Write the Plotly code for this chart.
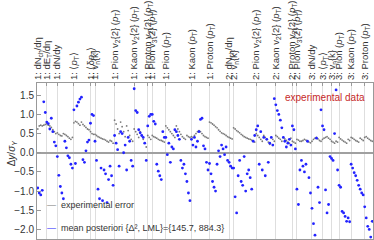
import numpy as np
import plotly.graph_objects as go

# observable groups (tick labels) and number of observables in each group
group_labels = [
    "1: dN<sub>ch</sub>/dη", "1: dE<sub>T</sub>/dη", "1: dN/dy", "1: ⟨<i>p</i><sub>T</sub>⟩",
    "1: ⟨δ<i>p</i><sub>T</sub>⟩", "1: v<sub>n</sub>{k}",
    "1: Pion v<sub>2</sub>{2} (<i>p</i><sub>T</sub>)", "1: Kaon v<sub>2</sub>{2} (<i>p</i><sub>T</sub>)",
    "1: Proton v<sub>2</sub>{2} (<i>p</i><sub>T</sub>)", "1: Pion v<sub>3</sub>{2} (<i>p</i><sub>T</sub>)",
    "1: Pion (<i>p</i><sub>T</sub>)", "1: Kaon (<i>p</i><sub>T</sub>)", "1: Proton (<i>p</i><sub>T</sub>)",
    "2: dN<sub>ch</sub>/dη", "2: v<sub>n</sub>{k}",
    "2: Pion v<sub>2</sub>{2} (<i>p</i><sub>T</sub>)", "2: Kaon v<sub>2</sub>{2} (<i>p</i><sub>T</sub>)",
    "2: Proton v<sub>2</sub>{2} (<i>p</i><sub>T</sub>)", "2: Pion v<sub>3</sub>{2} (<i>p</i><sub>T</sub>)",
    "3: dN/dy", "3: ⟨<i>p</i><sub>T</sub>⟩", "3: v<sub>n</sub>{k}",
    "3: Pion (<i>p</i><sub>T</sub>)", "3: Kaon (<i>p</i><sub>T</sub>)", "3: Proton (<i>p</i><sub>T</sub>)",
]
group_counts = [6, 7, 11, 11, 3, 13, 13, 9, 3, 9, 17, 12, 13, 3, 15, 13, 11, 3, 10, 7, 6, 5, 8, 9, 6]

# experimental error (relative), one value per observable
exp_error = [
    0.62, 0.70, 0.72, 0.70, 0.72, 0.74,
    0.76, 0.72, 0.70, 0.66, 0.60, 0.55, 0.50,
    0.52, 0.48, 0.45, 0.44, 0.50, 0.48, 0.45, 0.42, 0.38, 0.35, 0.40,
    0.78, 0.82, 0.80, 0.76, 0.72, 0.80, 0.74, 0.70, 0.66, 0.62, 0.60,
    0.55, 0.50, 0.48,
    0.48, 0.45, 0.42, 0.40, 0.38, 0.36, 0.35, 0.33, 0.30, 0.28, 0.32, 0.30, 0.25,
    0.85, 0.75, 0.62, 0.50, 0.80, 0.68, 0.55, 0.42, 0.70, 0.58, 0.45, 0.35, 0.30,
    0.62, 0.55, 0.48, 0.40, 0.55, 0.45, 0.35, 0.25, 0.15,
    0.45, 0.40, 0.35,
    0.45, 0.42, 0.40, 0.38, 0.35, 0.33, 0.32, 0.30, 0.28,
    0.70, 0.65, 0.60, 0.55, 0.50, 0.45, 0.40, 0.70, 0.62, 0.55, 0.48, 0.42, 0.38, 0.35, 0.45, 0.42, 0.40,
    0.42, 0.40, 0.45, 0.50, 0.55, 0.58, 0.55, 0.50, 0.45, 0.42, 0.40, 0.38,
    0.80, 0.78, 0.75, 0.72, 0.68, 0.65, 0.60, 0.56, 0.52, 0.50, 0.48, 0.45, 0.42,
    0.40, 0.38, 0.36,
    0.65, 0.62, 0.58, 0.55, 0.52, 0.48, 0.45, 0.42, 0.40, 0.38, 0.36, 0.35, 0.33, 0.30, 0.28,
    0.50, 0.45, 0.40, 0.35, 0.30, 0.45, 0.40, 0.35, 0.28, 0.22, 0.40, 0.35, 0.30,
    0.45, 0.42, 0.38, 0.35, 0.30, 0.40, 0.36, 0.32, 0.28, 0.25, 0.38,
    0.30, 0.28, 0.25,
    0.35, 0.33, 0.30, 0.30, 0.32, 0.35, 0.33, 0.30, 0.28, 0.26,
    0.30, 0.35, 0.38, 0.40, 0.36, 0.32, 0.30,
    0.35, 0.38, 0.40, 0.42, 0.38, 0.35,
    0.30, 0.28, 0.25, 0.30, 0.28,
    0.40, 0.36, 0.33, 0.30, 0.28, 0.25, 0.35, 0.32,
    0.40, 0.38, 0.35, 0.32, 0.30, 0.28, 0.38, 0.35, 0.32,
    0.40, 0.42, 0.38, 0.35, 0.32, 0.30,
]

# mean posteriori deviation, one value per observable
mean_posteriori = [
    -0.92, -1.05, -1.10, -0.98, 1.33, 1.05,
    0.80, 0.76, 0.62, 0.90, 0.55, 0.28, 0.18,
    -0.10, -0.59, -0.88, -1.05, -1.20, 0.30, 0.13, -0.08, -0.13, -0.30, -0.40,
    1.12, -0.28, 1.22, 1.32, 1.40, 1.45, -0.18, -0.25, 0.05, 0.28, 0.33,
    0.77, 1.00, 0.97,
    0.30, -0.20, -0.95, -1.20, -0.40, -1.25, -0.45, -0.55, -1.30, -0.70, -0.35, -0.60, -0.85,
    0.45, 0.25, 0.08, -0.35, 0.55, 0.50, 0.00, 0.20, -0.45, 0.40, 0.30, -0.20, -0.35,
    1.67, 1.10, 1.05, 0.60, 0.52, 0.45, 0.40, 0.25, -0.20,
    0.70, 0.95, 1.00,
    1.00, 0.82, 0.75, -0.30, -0.48, -0.60, -0.70, 0.55, 0.40,
    0.40, -0.05, 0.25, -0.25, 0.15, 0.10, 0.60, 0.55, 0.45, 0.35, -0.20, -0.40, -0.30, -0.55, -0.75, -1.05, -1.25,
    0.35, 0.20, 0.40, 0.15, 0.30, 0.55, 0.87, 0.90, 0.18, 0.10, -0.25, -0.45,
    -0.28, -0.55, -0.75, -0.90, -1.00, -0.30, 0.05, -0.10, 0.20, 0.10, -0.05, 0.15, -0.20,
    -0.25, -0.35, -0.40,
    -0.40, -1.15, -1.57, -0.60, -0.20, -0.75, -0.85, -0.10, -1.00, -0.55, -0.45, -0.65, -0.95, 0.30, 0.45,
    0.60, 0.70, -0.30, 0.55, -0.45, 0.40, -0.60, 0.35, -0.25, 0.25, 0.40, 0.20, 1.41,
    1.25, 1.10, 1.00, 0.85, 0.65, 0.40, 0.30, 0.15, 0.25, 0.35, 0.20,
    0.70, 0.60, 0.10,
    -0.95, -1.35, -0.45, -0.20, -0.35, -0.50, -0.30, 0.30, -0.65, -1.05,
    -1.45, -1.85, -2.15, 0.38, -0.90, -1.30, 1.12,
    0.70, 0.60, -0.97, -1.57, -1.35, -0.10,
    -0.15, -0.20, 0.50, 1.64, -0.45,
    -0.85, -0.90, -1.53, -1.57, -1.66, -1.79, -1.70, -1.80,
    -0.30, -0.40, -0.52, -0.60, -0.72, -0.85, -0.95, -1.05, -1.10,
    -1.41, -1.70, -1.92, -2.00, -2.20, -1.79,
]

y_ticks = [-2.0, -1.5, -1.0, -0.5, 0.0, 0.5, 1.0, 1.5]
legend_texts = ["experimental error", "mean posteriori {Δ², LML}={145.7, 884.3}"]

n_obs = sum(group_counts)
assert len(exp_error) == n_obs and len(mean_posteriori) == n_obs
obs_index = np.arange(n_obs)
group_starts = np.concatenate([[0], np.cumsum(group_counts)[:-1]])

FONT = "Liberation Sans, Arial, sans-serif"
fig = go.Figure()
fig.add_trace(go.Scatter(x=obs_index, y=exp_error, mode="markers",
                         marker=dict(size=1.8, color="#7a7a7a"), showlegend=False,
                         name=legend_texts[0]))
fig.add_trace(go.Scatter(x=obs_index, y=mean_posteriori, mode="markers",
                         marker=dict(size=2.8, color="#2323ff"), showlegend=False,
                         name=legend_texts[1]))

fig.update_layout(
    width=374, height=240,
    margin=dict(l=37, r=0, t=81, b=1, pad=0),
    paper_bgcolor="white", plot_bgcolor="white",
    font=dict(family=FONT, color="#333", size=10),
    xaxis=dict(side="top", range=[-0.5, n_obs - 0.5], tickmode="array",
               tickvals=group_starts, ticktext=group_labels, tickangle=-90,
               tickfont=dict(size=9.5, color="#333"),
               showgrid=True, gridcolor="#dedede", gridwidth=1,
               ticks="inside", ticklen=3, tickcolor="#999",
               showline=True, linecolor="#999", linewidth=1, mirror=True,
               zeroline=False),
    yaxis=dict(range=[-2.25, 1.82], tickmode="array", tickvals=y_ticks,
               tickformat=".1f", tickfont=dict(size=10, color="#333"),
               showgrid=False, zeroline=True, zerolinecolor="#a0a0a0", zerolinewidth=1.5,
               ticks="inside", ticklen=4, tickcolor="#999",
               showline=True, linecolor="#999", linewidth=1, mirror=True),
)

annotations = [
    dict(text="experimental data", xref="paper", yref="paper", x=0.982, y=0.905,
         xanchor="right", yanchor="middle", showarrow=False,
         font=dict(size=10, color="#c62828", family=FONT)),
    dict(text="Δ<i>y</i>/<i>σ</i><sub><i>Y</i></sub>", xref="paper", yref="paper",
         x=-0.074, y=0.55, textangle=-90, xanchor="center", yanchor="middle",
         showarrow=False, font=dict(size=10, color="#333", family=FONT)),
    dict(text="<span style='color:#777777'>—</span>  " + legend_texts[0],
         xref="paper", yref="paper", x=0.024, y=0.215, xanchor="left", yanchor="middle",
         showarrow=False, font=dict(size=9, color="#333", family=FONT)),
    dict(text="<span style='color:#2323ff'>—</span>  " + legend_texts[1],
         xref="paper", yref="paper", x=0.024, y=0.07, xanchor="left", yanchor="middle",
         showarrow=False, font=dict(size=9, color="#333", family=FONT)),
]
fig.update_layout(annotations=annotations)

fig.write_html("out.html", config={"displayModeBar": False},
               post_script="document.body.style.margin='0';document.body.style.overflow='hidden';")
